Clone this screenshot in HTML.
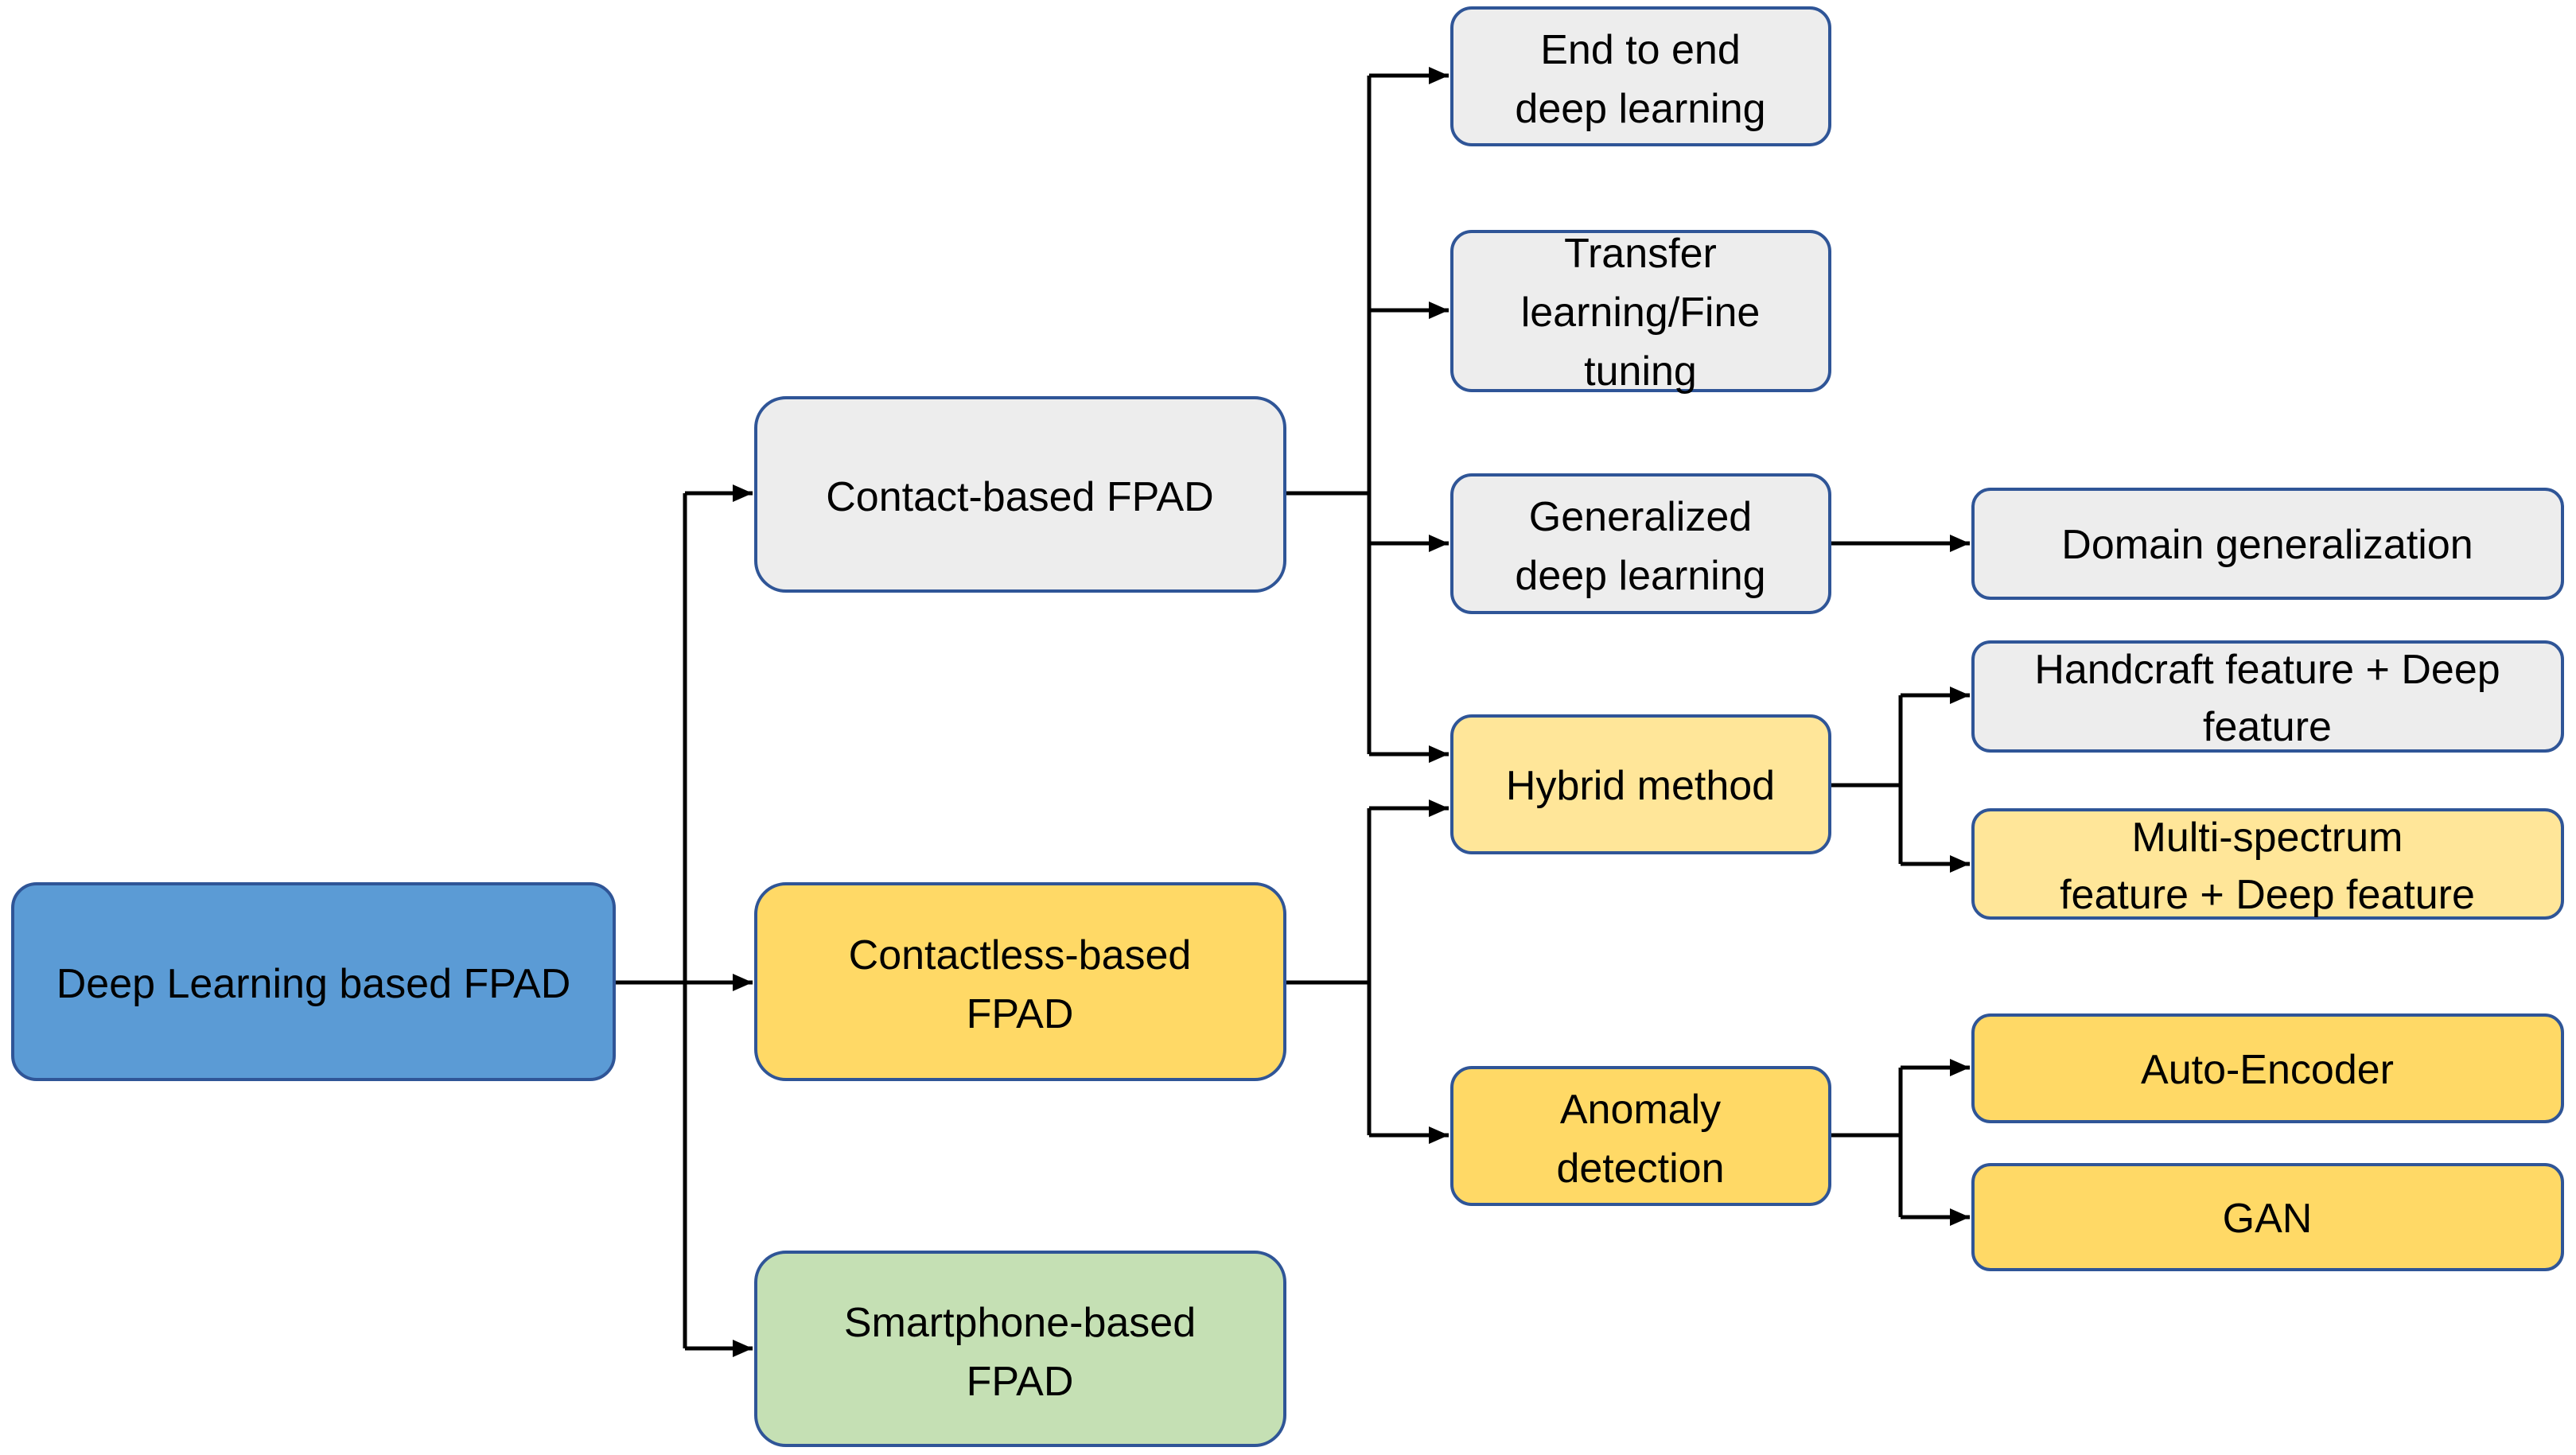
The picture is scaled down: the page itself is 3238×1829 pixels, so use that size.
<!DOCTYPE html>
<html><head><meta charset="utf-8"><style>
html,body{margin:0;padding:0;background:#fff;}
svg{display:block;}
text{font-family:"Liberation Sans",sans-serif;font-size:52px;fill:#000;text-anchor:middle;}
</style></head><body>
<svg width="3238" height="1829" viewBox="0 0 3238 1829" xmlns="http://www.w3.org/2000/svg">
<defs><marker id="a" markerWidth="6" markerHeight="6" refX="5" refY="3" orient="auto" markerUnits="strokeWidth"><path d="M0,0.8 L5,3 L0,5.2 z" fill="#000"/></marker></defs>
<g fill="none" stroke="#000" stroke-width="5">
<path d="M772,1235 H861"/>
<path d="M861,620 V1695"/>
<path d="M861,620 H946" marker-end="url(#a)"/>
<path d="M861,1235 H946" marker-end="url(#a)"/>
<path d="M861,1695 H946" marker-end="url(#a)"/>
<path d="M1615,620 H1721"/>
<path d="M1721,95 V948"/>
<path d="M1721,95 H1821" marker-end="url(#a)"/>
<path d="M1721,390 H1821" marker-end="url(#a)"/>
<path d="M1721,683 H1821" marker-end="url(#a)"/>
<path d="M1721,948 H1821" marker-end="url(#a)"/>
<path d="M1615,1235 H1721"/>
<path d="M1721,1016 V1427"/>
<path d="M1721,1016 H1821" marker-end="url(#a)"/>
<path d="M1721,1427 H1821" marker-end="url(#a)"/>
<path d="M2300,683 H2476" marker-end="url(#a)"/>
<path d="M2300,987 H2389"/>
<path d="M2389,874 V1086"/>
<path d="M2389,874 H2476" marker-end="url(#a)"/>
<path d="M2389,1086 H2476" marker-end="url(#a)"/>
<path d="M2300,1427 H2389"/>
<path d="M2389,1342 V1530"/>
<path d="M2389,1342 H2476" marker-end="url(#a)"/>
<path d="M2389,1530 H2476" marker-end="url(#a)"/>
</g>
<g stroke="#2F5597" stroke-width="4">
<rect x="16" y="1111" width="756" height="246" rx="30" fill="#5B9BD5"/>
<rect x="950" y="500" width="665" height="243" rx="38" fill="#EDEDED"/>
<rect x="950" y="1111" width="665" height="246" rx="38" fill="#FFD966"/>
<rect x="950" y="1574" width="665" height="243" rx="38" fill="#C5E0B4"/>
<rect x="1825" y="10" width="475" height="172" rx="25" fill="#EDEDED"/>
<rect x="1825" y="291" width="475" height="200" rx="25" fill="#EDEDED"/>
<rect x="1825" y="597" width="475" height="173" rx="25" fill="#EDEDED"/>
<rect x="1825" y="900" width="475" height="172" rx="25" fill="#FFE699"/>
<rect x="1825" y="1342" width="475" height="172" rx="25" fill="#FFD966"/>
<rect x="2480" y="615" width="741" height="137" rx="22" fill="#EDEDED"/>
<rect x="2480" y="807" width="741" height="137" rx="22" fill="#EDEDED"/>
<rect x="2480" y="1018" width="741" height="136" rx="22" fill="#FFE699"/>
<rect x="2480" y="1276" width="741" height="134" rx="22" fill="#FFD966"/>
<rect x="2480" y="1464" width="741" height="132" rx="22" fill="#FFD966"/>
</g>
<text x="394" y="1254">Deep Learning based FPAD</text>
<text x="1282" y="642">Contact-based FPAD</text>
<text x="1282" y="1218">Contactless-based</text>
<text x="1282" y="1292">FPAD</text>
<text x="1282" y="1680">Smartphone-based</text>
<text x="1282" y="1754">FPAD</text>
<text x="2062" y="80">End to end</text>
<text x="2062" y="154">deep learning</text>
<text x="2062" y="336">Transfer</text>
<text x="2062" y="410">learning/Fine</text>
<text x="2062" y="484">tuning</text>
<text x="2062" y="667">Generalized</text>
<text x="2062" y="741">deep learning</text>
<text x="2062" y="1005">Hybrid method</text>
<text x="2062" y="1412">Anomaly</text>
<text x="2062" y="1486">detection</text>
<text x="2850" y="702">Domain generalization</text>
<text x="2850" y="859">Handcraft feature + Deep</text>
<text x="2850" y="931">feature</text>
<text x="2850" y="1070">Multi-spectrum</text>
<text x="2850" y="1142">feature + Deep feature</text>
<text x="2850" y="1362">Auto-Encoder</text>
<text x="2850" y="1549">GAN</text>
</svg>
</body></html>
